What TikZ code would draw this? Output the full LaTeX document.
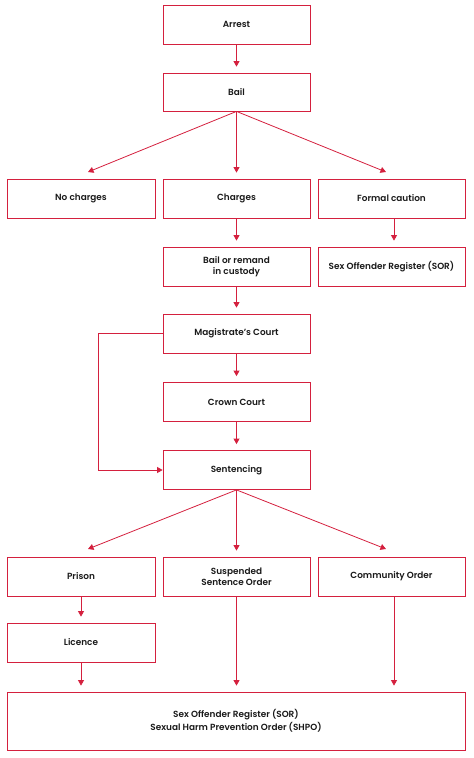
\documentclass[tikz,border=0pt]{standalone}
\usepackage{fontspec}
\setmainfont{Poppins}[UprightFont={* SemiBold},BoldFont={* Bold}]
\usetikzlibrary{arrows.meta,calc}
\definecolor{fred}{RGB}{212,32,62}
\begin{document}
\begin{tikzpicture}[x=1pt,y=-1pt,
  box/.style={draw=fred,line width=0.8pt,minimum width=147pt,minimum height=39pt,inner sep=0pt,align=center,font=\fontsize{8.9}{11}\selectfont,text=black!90},
  arr/.style={draw=fred,line width=0.8pt,-{Triangle[width=6pt,length=5.5pt]}},
  ln/.style={draw=fred,line width=0.8pt}]
\useasboundingbox (0,0) rectangle (474,758);
\node[box] (arrest) at (236.5,24.5) {Arrest};
\node[box,minimum height=38pt] (bail) at (236.5,92) {Bail};
\node[box,minimum width=148pt] (nocharge) at (81,198.5) {No charges};
\node[box] (charges) at (236.5,198.5) {Charges};
\node[box] (caution) at (391.5,198.5) {Formal caution};
\node[box] (remand) at (236.5,266.5) {Bail or remand\\in custody};
\node[box] (sor) at (391.5,266.5) {Sex Offender Register (SOR)};
\node[box] (mag) at (236.5,333.5) {Magistrate’s Court};
\node[box] (crown) at (236.5,402) {Crown Court};
\node[box] (sent) at (236.5,470) {Sentencing};
\node[box,minimum width=148pt] (prison) at (81,576.5) {Prison};
\node[box,font=\fontsize{8.9}{10.5}\selectfont] (susp) at (236.5,576.5) {Suspended\\Sentence Order};
\node[box] (comm) at (391.5,576.5) {Community Order};
\node[box,minimum width=148pt] (lic) at (81,642.5) {Licence};
\node[box,minimum width=458pt,minimum height=58pt,font=\fontsize{8.9}{13.3}\selectfont] (final) at (236,721) {Sex Offender Register (SOR)\\Sexual Harm Prevention Order (SHPO)};
\coordinate (t1) at (88,172);
\coordinate (t3) at (386,172);
\coordinate (t4) at (88,549);
\coordinate (t6) at (386,549);
\coordinate (cx) at (394,0);
\coordinate (mx) at (98,0);
\begin{scope}[shorten >=6pt]
\draw[arr] (arrest) -- (bail);
\draw[arr] (bail) -- (charges);
\draw[arr] (charges) -- (remand);
\draw[arr] (caution.south -| cx) -- (sor.north -| cx);
\draw[arr] (remand) -- (mag);
\draw[arr] (mag) -- (crown);
\draw[arr] (crown) -- (sent);
\draw[arr] (sent) -- (susp);
\draw[arr] (prison) -- (lic);
\draw[arr] (lic.south) -- (final.north -| lic.south);
\draw[arr] (susp.south) -- (final.north -| susp.south);
\draw[arr] (comm.south -| cx) -- (final.north -| cx);
\end{scope}
\draw[arr,shorten >=0pt] (bail.south) -- (t1);
\draw[arr,shorten >=0pt] (bail.south) -- (t3);
\draw[arr,shorten >=0pt] (sent.south) -- (t4);
\draw[arr,shorten >=0pt] (sent.south) -- (t6);
\draw[arr] (mag.west) -- (mag.west -| mx) -- (sent.west -| mx) -- (sent.west);
\end{tikzpicture}
\end{document}
